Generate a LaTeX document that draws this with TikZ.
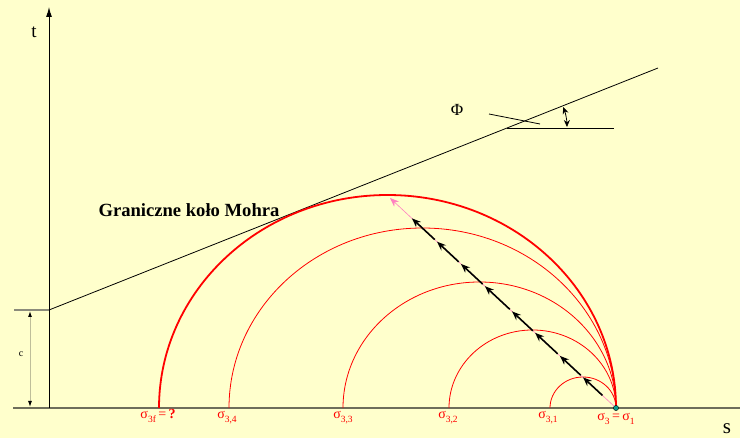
\documentclass[tikz,border=0pt]{standalone}
\usepackage{fontspec}
\setmainfont{Liberation Serif}
\usetikzlibrary{arrows.meta,calc}
\definecolor{bgc}{HTML}{FFFFCC}
\definecolor{axc}{HTML}{6E6E5A}
\definecolor{dimc}{HTML}{BEBE9A}
\definecolor{tealc}{HTML}{109C8C}
\definecolor{pinkc}{HTML}{FF80C0}
\newcommand{\sg}[1]{{\fontsize{14}{14}\selectfont σ}\raisebox{-3.5pt}{\fontsize{9.5}{9.5}\selectfont #1}}
\tikzset{
  circ/.style={red, line width=0.8pt},
  bigcirc/.style={red, line width=1.8pt},
  lab/.style={red, anchor=base, inner sep=0pt},
  chain/.style={black, line width=1.6pt, -{Stealth[length=9pt,width=7pt]}},
}
\begin{document}
\begin{tikzpicture}[x=1pt,y=-1pt]
\fill[bgc] (0,0) rectangle (740,438);
\useasboundingbox (0,0) rectangle (740,438);
% axes
\coordinate (O) at (49,408);
\coordinate (T) at (49,7);
\coordinate (Send) at (740,408);
\draw[axc, line width=1.6pt] (13,408) -- (Send);
\draw[black, line width=1pt, -{Latex[length=10pt,width=6pt]}] (O) -- (T);
\node[font=\fontsize{19}{19}\selectfont, inner sep=0pt] (tl) at (34,32) {t};
\node[font=\fontsize{21}{21}\selectfont, inner sep=0pt] (sl) at (727,429) {s};
% cohesion dimension
\coordinate (C) at (49,310);
\draw[axc!80, line width=1.4pt] (14,310) -- (C);
\draw[dimc, line width=1pt, {Latex[length=6pt,width=4pt,black]}-{Latex[length=6pt,width=4pt,black]}] (30,311) -- (30,407);
\node[font=\fontsize{10}{10}\selectfont, inner sep=0pt] (cl) at (21,354) {c};
% failure envelope
\coordinate (E) at (658,68);
\draw[black, line width=0.8pt] (C) -- (E);
% angle phi
\coordinate (V) at (507,128);
\draw[black, line width=0.8pt] (V) -- (614,128);
\draw[black, line width=0.8pt] (489,114) -- (540,124);
\draw[black, line width=0.8pt, {Stealth[length=7pt,width=6pt]}-{Stealth[length=7pt,width=6pt]}] ($(V)+(60,-1)$) arc[start angle=-1, end angle=-20.5, radius=60];
\node[font=\fontsize{17}{17}\selectfont, inner sep=0pt] (phi) at (457,110) {Φ};
% Mohr circles
\coordinate (S1) at (616,408);
\draw[circ] (S1) arc[start angle=0, end angle=-180, x radius=33, y radius=31];
\draw[circ] (S1) arc[start angle=0, end angle=-180, x radius=83.5, y radius=78];
\draw[circ] (S1) arc[start angle=0, end angle=-180, x radius=136.5, y radius=126];
\draw[circ] (S1) arc[start angle=0, end angle=-180, x radius=193.5, y radius=180];
\draw[bigcirc] (S1) arc[start angle=0, end angle=-180, x radius=228.5, y radius=213];
\node[font=\fontsize{18.6}{18.6}\selectfont\bfseries, inner sep=0pt] (gk) at (189,210) {Graniczne koło Mohra};
% stress path
\coordinate (P) at (390,198);
\draw[pinkc, line width=0.6pt, -{Stealth[length=9pt,width=7pt]}] (S1) -- (P);
\foreach \a/\b in {0.06/0.146, 0.156/0.248, 0.258/0.358, 0.368/0.46, 0.47/0.58, 0.59/0.686, 0.696/0.792, 0.802/0.903}{
  \draw[chain] ($(S1)!\a!(P)$) -- ($(S1)!\b!(P)$);
}
\filldraw[fill=tealc, draw=black, line width=0.4pt] (S1) circle[radius=2.6pt];
% labels
\node[lab] (l3f) at (158,419) {\sg{3f}{\fontsize{14}{14}\selectfont\,=\,\textbf{?}}};
\node[lab] (l34) at (227,419) {\sg{3,4}};
\node[lab] (l33) at (343,419) {\sg{3,3}};
\node[lab] (l32) at (448,419) {\sg{3,2}};
\node[lab] (l31) at (548,419) {\sg{3,1}};
\node[lab] (l3) at (616,421) {\sg{3}{\fontsize{14}{14}\selectfont\,=\,}\sg{1}};
\end{tikzpicture}
\end{document}
